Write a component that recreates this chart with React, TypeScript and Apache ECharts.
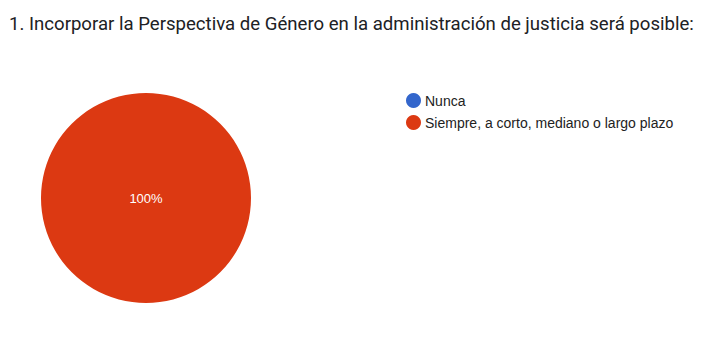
import React, { useEffect, useRef } from "react";
import * as echarts from "echarts";

const titleText = "1. Incorporar la Perspectiva de Género en la administración de justicia será posible:";
const categories = ["Nunca", "Siempre, a corto, mediano o largo plazo"];
const values = [0, 100];
const colors = ["#3366cc", "#dc3912"];

export default function App() {
  const ref = useRef<HTMLDivElement>(null);
  useEffect(() => {
    document.body.style.margin = "0";
    const chart = echarts.init(ref.current!, null, { renderer: "svg" });
    chart.setOption({
      animation: false,
      backgroundColor: "#ffffff",
      title: {
        text: titleText,
        left: 4,
        top: 9,
        textStyle: { fontFamily: "Roboto", fontSize: 18.6, fontWeight: "normal", color: "#202124" },
      },
      legend: {
        orient: "vertical",
        left: 401,
        top: 88,
        icon: "circle",
        itemWidth: 15,
        itemHeight: 15,
        itemGap: 7,
        data: categories,
        textStyle: { fontFamily: "Liberation Sans, Arial", fontSize: 14, color: "#222222", lineHeight: 15, padding: [0, 0, 0, -1] },
      },
      series: [
        {
          type: "pie",
          center: [146, 198],
          radius: 105,
          startAngle: 90,
          color: colors,
          data: categories.map((c, i) => ({ name: c, value: values[i] })),
          label: {
            show: true,
            position: "center",
            formatter: (p: any) => (p.value > 0 ? Math.round(p.percent) + "%" : ""),
            color: "#ffffff",
            fontFamily: "Liberation Sans, Arial",
            fontSize: 13,
          },
          labelLine: { show: false },
          itemStyle: { borderWidth: 0 },
          emphasis: { disabled: true },
        },
      ],
    });
    return () => chart.dispose();
  }, []);
  return <div ref={ref} style={{ width: 719, height: 352 }} />;
}
